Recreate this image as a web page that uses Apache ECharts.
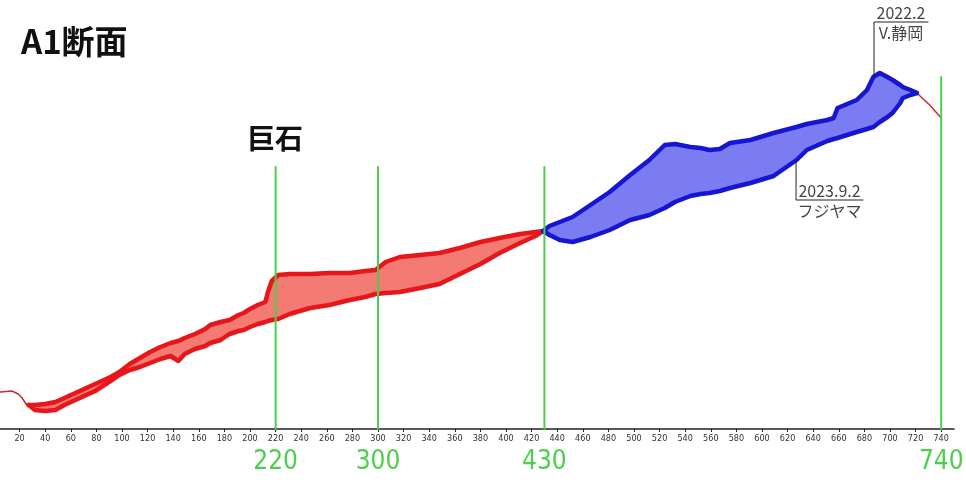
<!DOCTYPE html>
<html>
<head>
<meta charset="utf-8">
<script src="https://cdn.jsdelivr.net/npm/echarts@6/dist/echarts.min.js"></script>
<style>
html,body{margin:0;padding:0;background:#fff;}
#c{width:966px;height:494px;}
</style>
</head>
<body>
<div id="c"></div>
<script>
// Distance along section (m)
const dist = [5,14,19,22,25,27,32,40,48,55,67,79,91,98,106,114,122,130,138,144,149,157,165,169,177,184,191,195,200,206,212,214,217,222,231,247,262,278,290,298,306,317,333,348,364,380,395,411,423,429,434,442,452,466,481,497,512,524,532,544,552,559,567,575,591,609,627,635,651,656,659,674,682,687,692,698,702,708,710,716,721,731,740];
// Profile 2022.2 (V.静岡)
const elev2022 = [37,38,35,31,25,24,19,18,19,24,31,38,48,54,59,62,66,70,73,68,75,80,83,86,89,95,98,99,102,105,107,108,109,110,115,121,124,129,132,135,136,137,141,145,155,165,176,186,193,198,203,207,212,224,237,254,269,284,285,282,281,279,280,286,289,296,302,305,309,311,321,329,339,352,356,352,349,344,342,339,336,324,311];
// Profile 2023.9.2 (フジヤマ)
const elev2023 = [37,38,35,31,25,24,24,25,27,31,38,45,52,57,65,71,77,82,86,88,91,95,100,104,107,109,114,116,120,124,127,137,148,154,155,155,156,156,158,159,167,172,174,176,181,187,191,195,197,198,194,189,187,192,199,209,214,221,227,233,235,236,238,241,246,253,269,279,288,290,291,297,300,302,307,312,316,326,331,334,336,324,311];
// Section boundaries (indices into dist)
const redRange = [5, 49];
const blueRange = [49, 80];
// Marker lines
const markers = [0, 220, 300, 430, 740];
const markerTops = [262, 262, 262, 262, 352];
const tickLabels = [20,40,60,80,100,120,140,160,180,200,220,240,260,280,300,320,340,360,380,400,420,440,460,480,500,520,540,560,580,600,620,640,660,680,700,720,740];
// Annotation leaders
const lead2022 = [[687.5, 352], [687.5, 407], [729.7, 407]];
const lead2023 = [[626.6, 269], [626.6, 229], [678.9, 229]];

const RED = '#e6161a', RED_FILL = '#f47a74';
const BLUE = '#1616d2', BLUE_FILL = '#7b7bf2';
const GREEN = '#4ccf4c';

function pts(arr, a, b) {
  const out = [];
  for (let i = a; i <= b; i++) out.push([dist[i], arr[i]]);
  return out;
}

function band(upper, lower, a, b, fill) {
  const up = pts(upper, a, b), lo = pts(lower, a, b).reverse();
  return {
    type: 'custom', coordinateSystem: 'cartesian2d', silent: true, z: 1,
    data: [[dist[a], lower[a]]], encode: {x: 0, y: 1}, clip: false,
    renderItem: function (params, api) {
      const p = up.concat(lo).map(function (d) { return api.coord(d); });
      return {type: 'polygon', shape: {points: p}, style: {fill: fill}};
    }
  };
}

function line(data, color, width, z) {
  return {
    type: 'line', data: data, showSymbol: false, symbol: 'none', silent: true, z: z || 3,
    lineStyle: {color: color, width: width, join: 'round', cap: 'round'}
  };
}

const series = [];
series.push(band(elev2023, elev2022, redRange[0], redRange[1], RED_FILL));
series.push(band(elev2022, elev2023, blueRange[0], blueRange[1], BLUE_FILL));
series.push(line(pts(elev2022, 0, redRange[0]), '#cc2a2a', 1.5));
series.push(line(pts(elev2022, blueRange[1], dist.length - 1), '#cc2a2a', 1.5));
series.push(line(pts(elev2022, redRange[0], redRange[1]), RED, 4.5));
series.push(line(pts(elev2023, redRange[0], redRange[1]), RED, 4.5));
series.push(line(pts(elev2022, blueRange[0], blueRange[1]), BLUE, 4.5));
series.push(line(pts(elev2023, blueRange[0], blueRange[1]), BLUE, 4.5));
markers.forEach(function (m, i) {
  series.push(line([[m, 0], [m, markerTops[i]]], GREEN, 2, 6));
});
series.push(line(lead2022, '#222', 1, 5));
series.push(line(lead2023, '#222', 1, 5));

const annoFont = {fontFamily: '"Noto Sans CJK JP", sans-serif', fontSize: 16, color: '#111'};
function anno(p, text, pos) {
  return {value: p, label: Object.assign({show: true, formatter: text, position: pos, distance: pos === 'top' ? 1 : 3}, annoFont)};
}
series.push({
  type: 'scatter', symbolSize: 0, silent: true, z: 7,
  data: [
    anno([(lead2022[1][0] + lead2022[2][0]) / 2, lead2022[1][1]], '2022.2', 'top'),
    anno([(lead2022[1][0] + lead2022[2][0]) / 2, lead2022[1][1]], 'V.静岡', 'bottom'),
    anno([(lead2023[1][0] + lead2023[2][0]) / 2, lead2023[1][1]], '2023.9.2', 'top'),
    anno([(lead2023[1][0] + lead2023[2][0]) / 2, lead2023[1][1]], 'フジヤマ', 'bottom')
  ]
});

const chart = echarts.init(document.getElementById('c'), null, {renderer: 'canvas'});
chart.setOption({
  animation: false,
  backgroundColor: '#fff',
  title: [
    {text: 'A1断面', left: 16, top: 20, textStyle: {fontFamily: '"Noto Sans CJK JP", sans-serif', fontSize: 33, fontWeight: 'bold', color: '#111'}},
    {text: '巨石', left: 242, top: 119, textStyle: {fontFamily: '"Noto Sans CJK JP", sans-serif', fontSize: 28, fontWeight: 'bold', color: '#111'}}
  ],
  grid: {left: -6, width: 960, top: 0, bottom: 65, containLabel: false, outerBoundsMode: 'none'},
  xAxis: [
    {
      type: 'value', min: 0, max: 750, interval: 20, position: 'bottom',
      axisLine: {show: true, lineStyle: {color: '#222', width: 1.5}},
      axisTick: {show: true, length: 3, lineStyle: {color: '#222'}},
      splitLine: {show: false},
      axisLabel: {
        fontSize: 9, color: '#333', margin: 5,
        fontFamily: '"Liberation Sans Narrow", "DejaVu Sans Condensed", "Roboto", sans-serif',
        showMinLabel: false, showMaxLabel: false,
        formatter: function (v) { return tickLabels.indexOf(v) >= 0 ? String(v) : ''; }
      }
    },
    {
      type: 'value', min: 0, max: 750, interval: 10, position: 'bottom', offset: 14,
      axisLine: {show: false}, axisTick: {show: false}, splitLine: {show: false},
      axisLabel: {
        fontSize: 26, color: GREEN, margin: 6, showMinLabel: true, showMaxLabel: false,
        fontFamily: '"Liberation Sans Narrow", "DejaVu Sans Condensed", "Roboto", sans-serif',
        formatter: function (v) { return markers.indexOf(v) >= 0 ? String(v) : ''; }
      }
    }
  ],
  yAxis: {type: 'value', min: 0, max: 429, show: false, splitLine: {show: false}},
  series: series
});
</script>
</body>
</html>
